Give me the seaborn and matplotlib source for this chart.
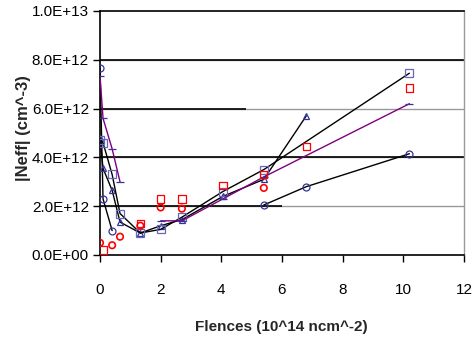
import numpy as np
import pandas as pd
import matplotlib
matplotlib.use("Agg")
import matplotlib.pyplot as plt
import seaborn as sns
from matplotlib.ticker import FuncFormatter

# ---- data (Neff in units of 1E12 cm^-3, fluence in 1E14 n/cm^2) ----
circ_low_x = [0.0, 0.1, 0.4]
circ_low_y = [7.65, 2.3, 1.0]

circ_high_x = [5.4, 6.8, 10.2]
circ_high_y = [2.05, 2.8, 4.15]

tri_x = [0.0, 0.1, 0.4, 0.66, 1.33, 2.0, 2.7, 4.05, 5.4, 6.8]
tri_y = [4.8, 3.55, 2.65, 1.35, 0.9, 1.2, 1.45, 2.4, 3.1, 5.7]

sq_x = [0.0, 0.1, 0.4, 0.66, 1.33, 2.0, 2.7, 4.05, 5.4, 10.2]
sq_y = [4.7, 4.6, 3.3, 1.7, 0.9, 1.05, 1.55, 2.6, 3.5, 7.45]

pur_low_x = [0.0, 0.1, 0.4, 0.66]
pur_low_y = [7.35, 5.6, 4.35, 3.0]

pur_high_x = [2.0, 2.7, 4.05, 5.4, 10.2]
pur_high_y = [1.4, 1.4, 2.3, 3.2, 6.2]

red_sq_x = [0.1, 1.33, 2.0, 2.7, 4.05, 5.4, 6.8, 10.2]
red_sq_y = [0.2, 1.3, 2.3, 2.3, 2.85, 3.3, 4.45, 6.85]

red_ci_x = [0.0, 0.4, 0.66, 1.33, 2.0, 2.7, 5.4]
red_ci_y = [0.5, 0.4, 0.75, 1.2, 1.95, 1.9, 2.75]

x_ticks = [0, 2, 4, 6, 8, 10, 12]
y_ticks = [0, 2, 4, 6, 8, 10]

SCALE = 1e12
BLUE = "#333399"
PURPLE = "#800080"
RED = "#ff0000"

sns.set_theme(style="white")
plt.rcParams["font.family"] = ["Liberation Sans", "DejaVu Sans"]

fig = plt.figure(figsize=(4.73, 3.40), dpi=100)
ax = fig.add_axes([100 / 473, 1 - 255 / 340, 364 / 473, 244 / 340])

def sc(v):
    return [a * SCALE for a in v]

# grid lines (Excel-like)
for yv in [2, 4, 6, 8]:
    ax.axhline(yv * SCALE, color="#999999", lw=1.0, zorder=0)
ax.axhline(8 * SCALE, color="black", lw=1.2, zorder=0.5)
ax.axhline(4 * SCALE, color="black", lw=1.2, zorder=0.5)
ax.hlines(6 * SCALE, 0, 4.8, color="black", lw=1.2, zorder=0.5)
ax.hlines(2 * SCALE, 0, 6.0, color="black", lw=1.2, zorder=0.5)

def line_series(x, y, lc, marker, mcolor, ms=5):
    sns.lineplot(x=x, y=sc(y), ax=ax, color=lc, lw=1.0, sort=False,
                 estimator=None, marker=marker, markersize=ms,
                 markerfacecolor="none", markeredgecolor=mcolor,
                 markeredgewidth=0.9, zorder=3)

line_series(circ_low_x, circ_low_y, "black", "o", BLUE)
line_series(circ_high_x, circ_high_y, "black", "o", BLUE)
line_series(tri_x, tri_y, "black", "^", BLUE)
line_series(sq_x, sq_y, "black", "s", "#6666bb", ms=5.5)
line_series(pur_low_x, pur_low_y, PURPLE, "_", BLUE, ms=6)
line_series(pur_high_x, pur_high_y, PURPLE, "_", BLUE, ms=6)

sns.scatterplot(x=red_sq_x, y=sc(red_sq_y), ax=ax, marker="s", s=28,
                facecolor="none", edgecolor=RED, linewidth=0.9, zorder=4)
sns.scatterplot(x=red_ci_x, y=sc(red_ci_y), ax=ax, marker="o", s=22,
                facecolor="none", edgecolor=RED, linewidth=1.2, zorder=4)

ax.set_xlim(0, 12)
ax.set_ylim(0, 10 * SCALE)
ax.set_xticks(x_ticks)
ax.set_yticks([v * SCALE for v in y_ticks])
ax.yaxis.set_major_formatter(FuncFormatter(lambda v, p: f"{v:.1E}"))

for s in ["left", "bottom", "top"]:
    ax.spines[s].set_color("black")
    ax.spines[s].set_linewidth(1.2)
ax.spines["right"].set_color("#999999")
ax.spines["right"].set_linewidth(1.0)

ax.tick_params(axis="both", direction="out", length=5, width=1,
               color="black", labelsize=11, labelcolor="black")
ax.tick_params(axis="x", pad=15, bottom=True)
ax.tick_params(axis="y", pad=3, left=True)

ax.set_xlabel("Flences (10^14 ncm^-2)", fontsize=11, fontweight="bold")
ax.set_ylabel("|Neff| (cm^-3)", fontsize=12, fontweight="bold")
ax.xaxis.set_label_coords(0.497, -0.266)
ax.yaxis.set_label_coords(-0.19, 0.52)

fig.savefig("out.png", dpi=100)
